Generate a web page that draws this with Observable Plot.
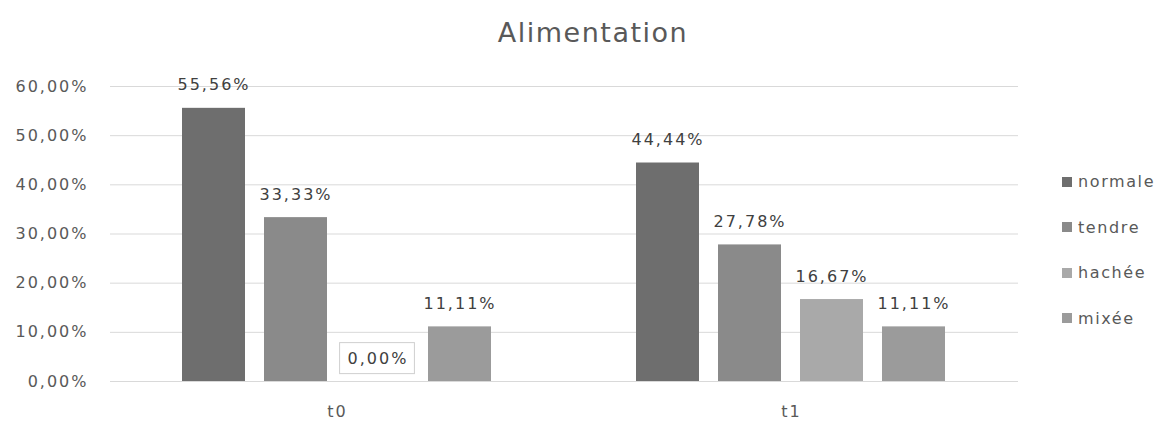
<!DOCTYPE html>
<html>
<head>
<meta charset="utf-8">
<script src="https://cdn.jsdelivr.net/npm/d3@7"></script>
<script src="https://cdn.jsdelivr.net/npm/@observablehq/plot@0.6"></script>
<style>
  html, body { margin: 0; padding: 0; background: #fff; }
  #wrap { position: relative; width: 1168px; height: 425px; font-family: "DejaVu Sans", sans-serif; }
  #title { position: absolute; left: 0; width: 1168px; top: 17px; text-align: center; padding-left: 18px; box-sizing: border-box;
           font-size: 27px; letter-spacing: 1.5px; color: #595959; }
  #legend { position: absolute; left: 1062px; top: 159px; font-size: 16px; letter-spacing: 1.6px; color: #595959; }
  #legend .row { display: flex; align-items: center; height: 45.5px; }
  #legend .sw { width: 10px; height: 10px; margin-right: 6px; }
</style>
</head>
<body>
<div id="wrap">
  <div id="title">Alimentation</div>
  <div id="chart"></div>
  <div id="legend"></div>
</div>
<script>
// Time points, food texture types and their shares
const periods = ["t0", "t1"];
const textures = ["normale", "tendre", "hachée", "mixée"];
const valuesT0 = [0.5556, 0.3333, 0.0, 0.1111];
const valuesT1 = [0.4444, 0.2778, 0.1667, 0.1111];
const yTicks = [0, 0.1, 0.2, 0.3, 0.4, 0.5, 0.6];
const palette = ["#6e6e6e", "#8a8a8a", "#a9a9a9", "#9b9b9b"];

const rows = [];
[valuesT0, valuesT1].forEach((vals, i) => {
  vals.forEach((v, j) => rows.push({period: periods[i], texture: textures[j], value: v}));
});

const pct = v => (v * 100).toFixed(2).replace(".", ",") + "%";

const chart = Plot.plot({
  width: 1168,
  height: 425,
  marginLeft: 110,
  marginRight: 150,
  marginTop: 86,
  marginBottom: 44,
  style: {fontFamily: "DejaVu Sans, sans-serif", fontSize: "16px", letterSpacing: "2px", color: "#595959", background: "transparent"},
  fx: {domain: periods, padding: 0, label: null, tickSize: 0, tickPadding: 24},
  x: {domain: textures, paddingInner: 0.23, paddingOuter: 0.85, axis: null},
  y: {domain: [0, 0.6], ticks: yTicks, tickFormat: pct, tickSize: 0, tickPadding: 22, label: null},
  color: {domain: textures, range: palette},
  marks: [
    Plot.ruleY(yTicks, {stroke: "#d9d9d9", strokeWidth: 1}),
    Plot.barY(rows, {fx: "period", x: "texture", y: "value", fill: "texture"}),
    Plot.text(rows, {fx: "period", x: "texture", y: "value", text: d => pct(d.value), dy: -23,
                     fill: "#404040", fontSize: 16, className: "vlabels"})
  ]
});
document.getElementById("chart").appendChild(chart);

// Zero-valued labels get a light outlined box behind them
chart.querySelectorAll(".vlabels text").forEach(t => {
  if (t.textContent === pct(0)) {
    const b = t.getBBox();
    const r = document.createElementNS("http://www.w3.org/2000/svg", "rect");
    r.setAttribute("x", b.x - 8);
    r.setAttribute("y", b.y - 6);
    r.setAttribute("width", b.width + 14);
    r.setAttribute("height", b.height + 12);
    r.setAttribute("fill", "#fff");
    r.setAttribute("stroke", "#cfcfcf");
    const tr = t.getAttribute("transform");
    if (tr) r.setAttribute("transform", tr);
    t.parentNode.insertBefore(r, t);
  }
});

// Legend built from the chart's colour scale
const scale = chart.scale("color");
const legend = document.getElementById("legend");
scale.domain.forEach((name, i) => {
  const row = document.createElement("div");
  row.className = "row";
  const sw = document.createElement("div");
  sw.className = "sw";
  sw.style.background = scale.range[i];
  const label = document.createElement("span");
  label.textContent = name;
  row.appendChild(sw);
  row.appendChild(label);
  legend.appendChild(row);
});
</script>
</body>
</html>
